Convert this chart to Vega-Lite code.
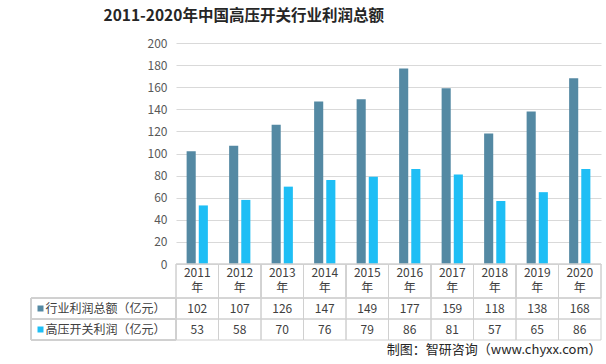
{
  "$schema": "https://vega.github.io/schema/vega-lite/v6.json",
  "padding": {"left": 30, "right": 5, "top": 8, "bottom": 4},
  "background": "#ffffff",
  "config": {"font": "Noto Sans CJK SC", "view": {"stroke": null}, "axis": {"labelFont": "Noto Sans CJK SC"}},
  "title": {"text": "2011-2020年中国高压开关行业利润总额", "fontSize": 15.5, "fontWeight": "bold", "color": "#262626", "anchor": "start", "dx": 73, "offset": 13},
  "data": {"values": [
    {"year": "2011", "series": "行业利润总额（亿元）", "value": 102},
    {"year": "2012", "series": "行业利润总额（亿元）", "value": 107},
    {"year": "2013", "series": "行业利润总额（亿元）", "value": 126},
    {"year": "2014", "series": "行业利润总额（亿元）", "value": 147},
    {"year": "2015", "series": "行业利润总额（亿元）", "value": 149},
    {"year": "2016", "series": "行业利润总额（亿元）", "value": 177},
    {"year": "2017", "series": "行业利润总额（亿元）", "value": 159},
    {"year": "2018", "series": "行业利润总额（亿元）", "value": 118},
    {"year": "2019", "series": "行业利润总额（亿元）", "value": 138},
    {"year": "2020", "series": "行业利润总额（亿元）", "value": 168},
    {"year": "2011", "series": "高压开关利润（亿元）", "value": 53},
    {"year": "2012", "series": "高压开关利润（亿元）", "value": 58},
    {"year": "2013", "series": "高压开关利润（亿元）", "value": 70},
    {"year": "2014", "series": "高压开关利润（亿元）", "value": 76},
    {"year": "2015", "series": "高压开关利润（亿元）", "value": 79},
    {"year": "2016", "series": "高压开关利润（亿元）", "value": 86},
    {"year": "2017", "series": "高压开关利润（亿元）", "value": 81},
    {"year": "2018", "series": "高压开关利润（亿元）", "value": 57},
    {"year": "2019", "series": "高压开关利润（亿元）", "value": 65},
    {"year": "2020", "series": "高压开关利润（亿元）", "value": 86}
  ]},
  "columns": 2,
  "spacing": 0,
  "align": "each",
  "bounds": "flush",
  "resolve": {"scale": {"x": "independent", "y": "independent"}},
  "concat": [
    {
      "width": 145, "height": 221,
      "mark": {"type": "text"},
      "encoding": {"text": {"value": ""}}
    },
    {
      "width": 425, "height": 221,
      "mark": {"type": "bar"},
      "encoding": {
        "x": {"field": "year", "type": "nominal", "scale": {"paddingInner": 0.5, "paddingOuter": 0.25},
              "axis": {"title": null, "domain": false, "ticks": false, "labelAngle": 0, "labelExpr": "[datum.label, '年']", "labelPadding": 3, "labelFontSize": 12, "labelColor": "#404040", "labelLineHeight": 15.5}},
        "xOffset": {"field": "series", "type": "nominal", "sort": ["行业利润总额（亿元）", "高压开关利润（亿元）"], "scale": {"paddingInner": 0.25, "paddingOuter": 0}},
        "y": {"field": "value", "type": "quantitative", "scale": {"domain": [0, 200]},
              "axis": {"title": null, "values": [0, 20, 40, 60, 80, 100, 120, 140, 160, 180, 200], "domain": false, "ticks": false, "gridColor": "#D9D9D9", "labelColor": "#595959", "labelPadding": 9, "labelFontSize": 12}},
        "color": {"field": "series", "type": "nominal", "sort": ["行业利润总额（亿元）", "高压开关利润（亿元）"], "scale": {"range": ["#5489A3", "#1EBEF5"]}, "legend": null}
      }
    },
    {
      "width": 145, "height": 34,
      "mark": {"type": "text"},
      "encoding": {"text": {"value": ""}}
    },
    {
      "width": 425, "height": 34,
      "mark": {"type": "rect", "fill": "transparent", "stroke": "#D0D0D0", "strokeWidth": 1},
      "encoding": {
        "x": {"field": "year", "type": "nominal", "scale": {"paddingInner": 0, "paddingOuter": 0}, "axis": null}
      }
    },
    {
      "width": 145, "height": 42,
      "mark": {"type": "rect", "fill": "transparent", "stroke": "#D0D0D0", "strokeWidth": 1},
      "encoding": {
        "y": {"field": "series", "type": "nominal", "sort": ["行业利润总额（亿元）", "高压开关利润（亿元）"], "scale": {"paddingInner": 0, "paddingOuter": 0},
              "axis": {"title": null, "orient": "left", "offset": -12, "domain": false, "ticks": true, "tickSize": 6, "tickWidth": 6, "tickCap": "butt",
                       "tickColor": {"condition": {"test": "datum.value === '行业利润总额（亿元）'", "value": "#5489A3"}, "value": "#1EBEF5"},
                       "labelAlign": "left", "labelPadding": -8, "labelFontSize": 12, "labelColor": "#404040", "labelLimit": 0}}
      }
    },
    {
      "width": 425, "height": 42,
      "title": {"text": "制图：智研咨询（www.chyxx.com）", "orient": "bottom", "anchor": "end", "fontSize": 13, "fontWeight": "normal", "color": "#262626", "offset": 3},
      "encoding": {
        "x": {"field": "year", "type": "nominal", "scale": {"paddingInner": 0, "paddingOuter": 0}, "axis": null},
        "y": {"field": "series", "type": "nominal", "sort": ["行业利润总额（亿元）", "高压开关利润（亿元）"], "scale": {"paddingInner": 0, "paddingOuter": 0}, "axis": null}
      },
      "layer": [
        {"mark": {"type": "rect", "fill": "transparent", "stroke": "#D0D0D0", "strokeWidth": 1}},
        {"mark": {"type": "text", "fontSize": 12, "color": "#404040"}, "encoding": {"text": {"field": "value", "type": "quantitative"}}}
      ]
    }
  ]
}
